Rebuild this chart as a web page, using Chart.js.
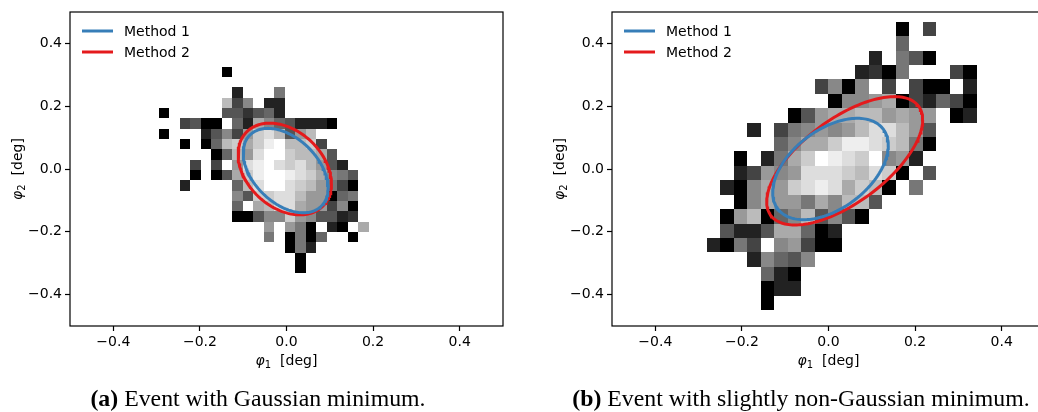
<!DOCTYPE html>
<html lang="en">
<head>
<meta charset="utf-8">
<title>Method 1 vs Method 2 ellipses</title>
<script src="https://cdn.jsdelivr.net/npm/chart.js@4.4.0/dist/chart.umd.min.js"></script>
<style>
  html, body { margin: 0; padding: 0; background: #fff; overflow: hidden; }
  body { width: 1038px; height: 412px; position: relative; }
  .panel { position: absolute; top: 0; width: 530px; height: 412px; }
  #panelA { left: 0; }
  #panelB { left: 542px; }
  .caption {
    position: absolute; top: 386px; text-align: center; white-space: nowrap; line-height: 24px;
    font-family: "Liberation Serif", "Times New Roman", serif; font-size: 23.8px; color: #000;
  }
  #capA { left: 0; width: 516px; }
  #capB { left: 542px; width: 518px; }
</style>
</head>
<body>
  <canvas id="panelA" class="panel" width="530" height="412"></canvas>
  <canvas id="panelB" class="panel" width="530" height="412"></canvas>
  <div id="capA" class="caption"><b>(a)</b> Event with Gaussian minimum.</div>
  <div id="capB" class="caption"><b>(b)</b> Event with slightly non-Gaussian minimum.</div>
<script>
// tick labels (deg)
const xTicks = [-0.4, -0.2, 0.0, 0.2, 0.4];
const yTicks = [-0.4, -0.2, 0.0, 0.2, 0.4];
const seriesNames = ['Method 1', 'Method 2'];

// 2D histogram shade per bin, hex 0 (black) .. f (white), '.' = empty bin
// rows go from top (high phi2) to bottom
const leftShades = [
  "......0.............",
  "....................",
  ".......2...7........",
  "......b48.22........",
  "0.....553562........",
  "..4500.62a8652220...",
  "0...25849cdb59b.....",
  "..0.06bcacefbbc4....",
  ".....06b9dffcbba5...",
  "...4.4.9defdcdb952..",
  "...0.05aceffedca875.",
  "..2....6bdffdcb9740.",
  ".......85ccddb99067.",
  ".......6.abdda99480.",
  ".......00588c985523.",
  "..........9.970.20.a",
  "..........7.0706..0.",
  "............072.....",
  ".............0......",
  ".............0......"
];
const rightShades = [
  "..............0.4...",
  "..............6.....",
  "............2.750...",
  "...........2307...40",
  "........4808.4.400.2",
  ".........0889a042640",
  "......059aabb9a99.02",
  "...2.478989bddb95...",
  ".....68aaceedcb70...",
  "..0.27acfedcf892....",
  "..24989dddcbdc0.5...",
  ".208a9cdedacb0.7....",
  "..08a997a8bb5.......",
  ".09b068b5850........",
  ".5225aa602..........",
  "2074.89400..........",
  "...28658............",
  "....620.............",
  "....022.............",
  "....0..............."
];
// bin grid: [first x edge, bin width, top y edge, bin height] in deg
const leftBins = [-0.2947, 0.02421, 0.3258, 0.0329];
const rightBins = [-0.2813, 0.03118, 0.4691, 0.04592];

// ellipses: [centre phi1, centre phi2, var phi1, var phi2, cov]
const leftMethod1 = [-0.002, -0.005, 0.00962, 0.01806, -0.0055];
const leftMethod2 = [-0.004, 0.000, 0.01162, 0.02132, -0.00504];
const rightMethod1 = [0.0046, 0.000, 0.01782, 0.02605, 0.0100];
const rightMethod2 = [0.0374, 0.0261, 0.03244, 0.04178, 0.0235];

const colors = ['#377eb8', '#e41a1c'];
const FONT = '"DejaVu Sans", sans-serif';

function ellipsePoints(e) {
  const [cx, cy, vx, vy, cxy] = e;
  const sx = Math.sqrt(vx);
  const k = cxy / sx;
  const r = Math.sqrt(vy - k * k);
  const pts = [];
  for (let i = 0; i <= 180; i++) {
    const t = i / 180 * 2 * Math.PI;
    pts.push({ x: cx + sx * Math.cos(t), y: cy + k * Math.cos(t) + r * Math.sin(t) });
  }
  return pts;
}

function fmt(v) {
  return (v < 0 ? '\u2212' : '') + Math.abs(v).toFixed(1);
}

const heatmapPlugin = {
  id: 'heatmap',
  beforeDatasetsDraw(chart, args, opts) {
    const { ctx, chartArea: a, scales: { x, y } } = chart;
    const [x0, dx, y0, dy] = opts.bins;
    ctx.save();
    ctx.beginPath();
    ctx.rect(a.left, a.top, a.right - a.left, a.bottom - a.top);
    ctx.clip();
    opts.shades.forEach((row, r) => {
      for (let c = 0; c < row.length; c++) {
        const ch = row[c];
        if (ch === '.') continue;
        const g = parseInt(ch, 16) * 17;
        const px0 = Math.round(x.getPixelForValue(x0 + c * dx));
        const px1 = Math.round(x.getPixelForValue(x0 + (c + 1) * dx));
        const py0 = Math.round(y.getPixelForValue(y0 - r * dy));
        const py1 = Math.round(y.getPixelForValue(y0 - (r + 1) * dy));
        ctx.fillStyle = `rgb(${g},${g},${g})`;
        ctx.fillRect(px0, py0, px1 - px0, py1 - py0);
      }
    });
    ctx.restore();
  }
};

function axisTitle(ctx, sub, x, y, rotate) {
  ctx.save();
  ctx.translate(x, y);
  if (rotate) ctx.rotate(-Math.PI / 2);
  const ital = 'italic 14px ' + FONT, small = '10px ' + FONT, main = '14px ' + FONT;
  ctx.font = ital; const w1 = ctx.measureText('\u03c6').width;
  ctx.font = small; const w2 = ctx.measureText(sub).width;
  ctx.font = main; const w3 = ctx.measureText('  [deg]').width;
  let cx = -(w1 + w2 + w3) / 2;
  ctx.fillStyle = '#000';
  ctx.textBaseline = 'alphabetic';
  ctx.font = ital; ctx.fillText('\u03c6', cx, 0); cx += w1;
  ctx.font = small; ctx.fillText(sub, cx, 3); cx += w2;
  ctx.font = main; ctx.fillText('  [deg]', cx, 0);
  ctx.restore();
}

const framePlugin = {
  id: 'frame',
  afterDraw(chart) {
    const { ctx, chartArea: a } = chart;
    ctx.save();
    ctx.strokeStyle = '#000';
    ctx.lineWidth = 1.2;
    ctx.strokeRect(a.left, a.top, a.right - a.left, a.bottom - a.top);
    // legend
    ctx.font = '14px ' + FONT;
    ctx.textBaseline = 'middle';
    chart.data.datasets.forEach((ds, i) => {
      const ly = a.top + 19 + i * 21;
      ctx.strokeStyle = ds.borderColor;
      ctx.lineWidth = 3;
      ctx.beginPath();
      ctx.moveTo(a.left + 12, ly);
      ctx.lineTo(a.left + 43, ly);
      ctx.stroke();
      ctx.fillStyle = '#000';
      ctx.fillText(ds.label, a.left + 54, ly + 1);
    });
    ctx.restore();
    axisTitle(ctx, '1', (a.left + a.right) / 2, 365, false);
    axisTitle(ctx, '2', 22, (a.top + a.bottom) / 2, true);
  }
};

function axis(ticks, fit) {
  return {
    type: 'linear', min: -0.5, max: 0.5,
    afterBuildTicks: s => { s.ticks = ticks.map(v => ({ value: v })); },
    afterFit: fit,
    ticks: { callback: fmt, color: '#000', font: { family: FONT, size: 14 }, padding: 3, maxRotation: 0, autoSkip: false },
    grid: { display: true, drawOnChartArea: false, drawTicks: true, tickLength: 5, tickColor: '#000', tickWidth: 1.2 },
    border: { display: false }
  };
}

function makeChart(id, shades, bins, ellipses) {
  return new Chart(document.getElementById(id), {
    type: 'scatter',
    data: {
      datasets: ellipses.map((e, i) => ({
        label: seriesNames[i],
        data: ellipsePoints(e),
        showLine: true,
        borderColor: colors[i],
        borderWidth: 3,
        pointRadius: 0,
        fill: false
      }))
    },
    options: {
      responsive: false,
      animation: false,
      devicePixelRatio: 1,
      layout: { padding: { top: 12, right: 27, left: 0, bottom: 0 } },
      scales: {
        x: axis(xTicks, s => { s.height = 86; }),
        y: axis(yTicks, s => { s.width = 70; })
      },
      plugins: {
        legend: { display: false },
        tooltip: { enabled: false },
        heatmap: { shades, bins }
      }
    },
    plugins: [heatmapPlugin, framePlugin]
  });
}

makeChart('panelA', leftShades, leftBins, [leftMethod1, leftMethod2]);
makeChart('panelB', rightShades, rightBins, [rightMethod1, rightMethod2]);
</script>
</body>
</html>
